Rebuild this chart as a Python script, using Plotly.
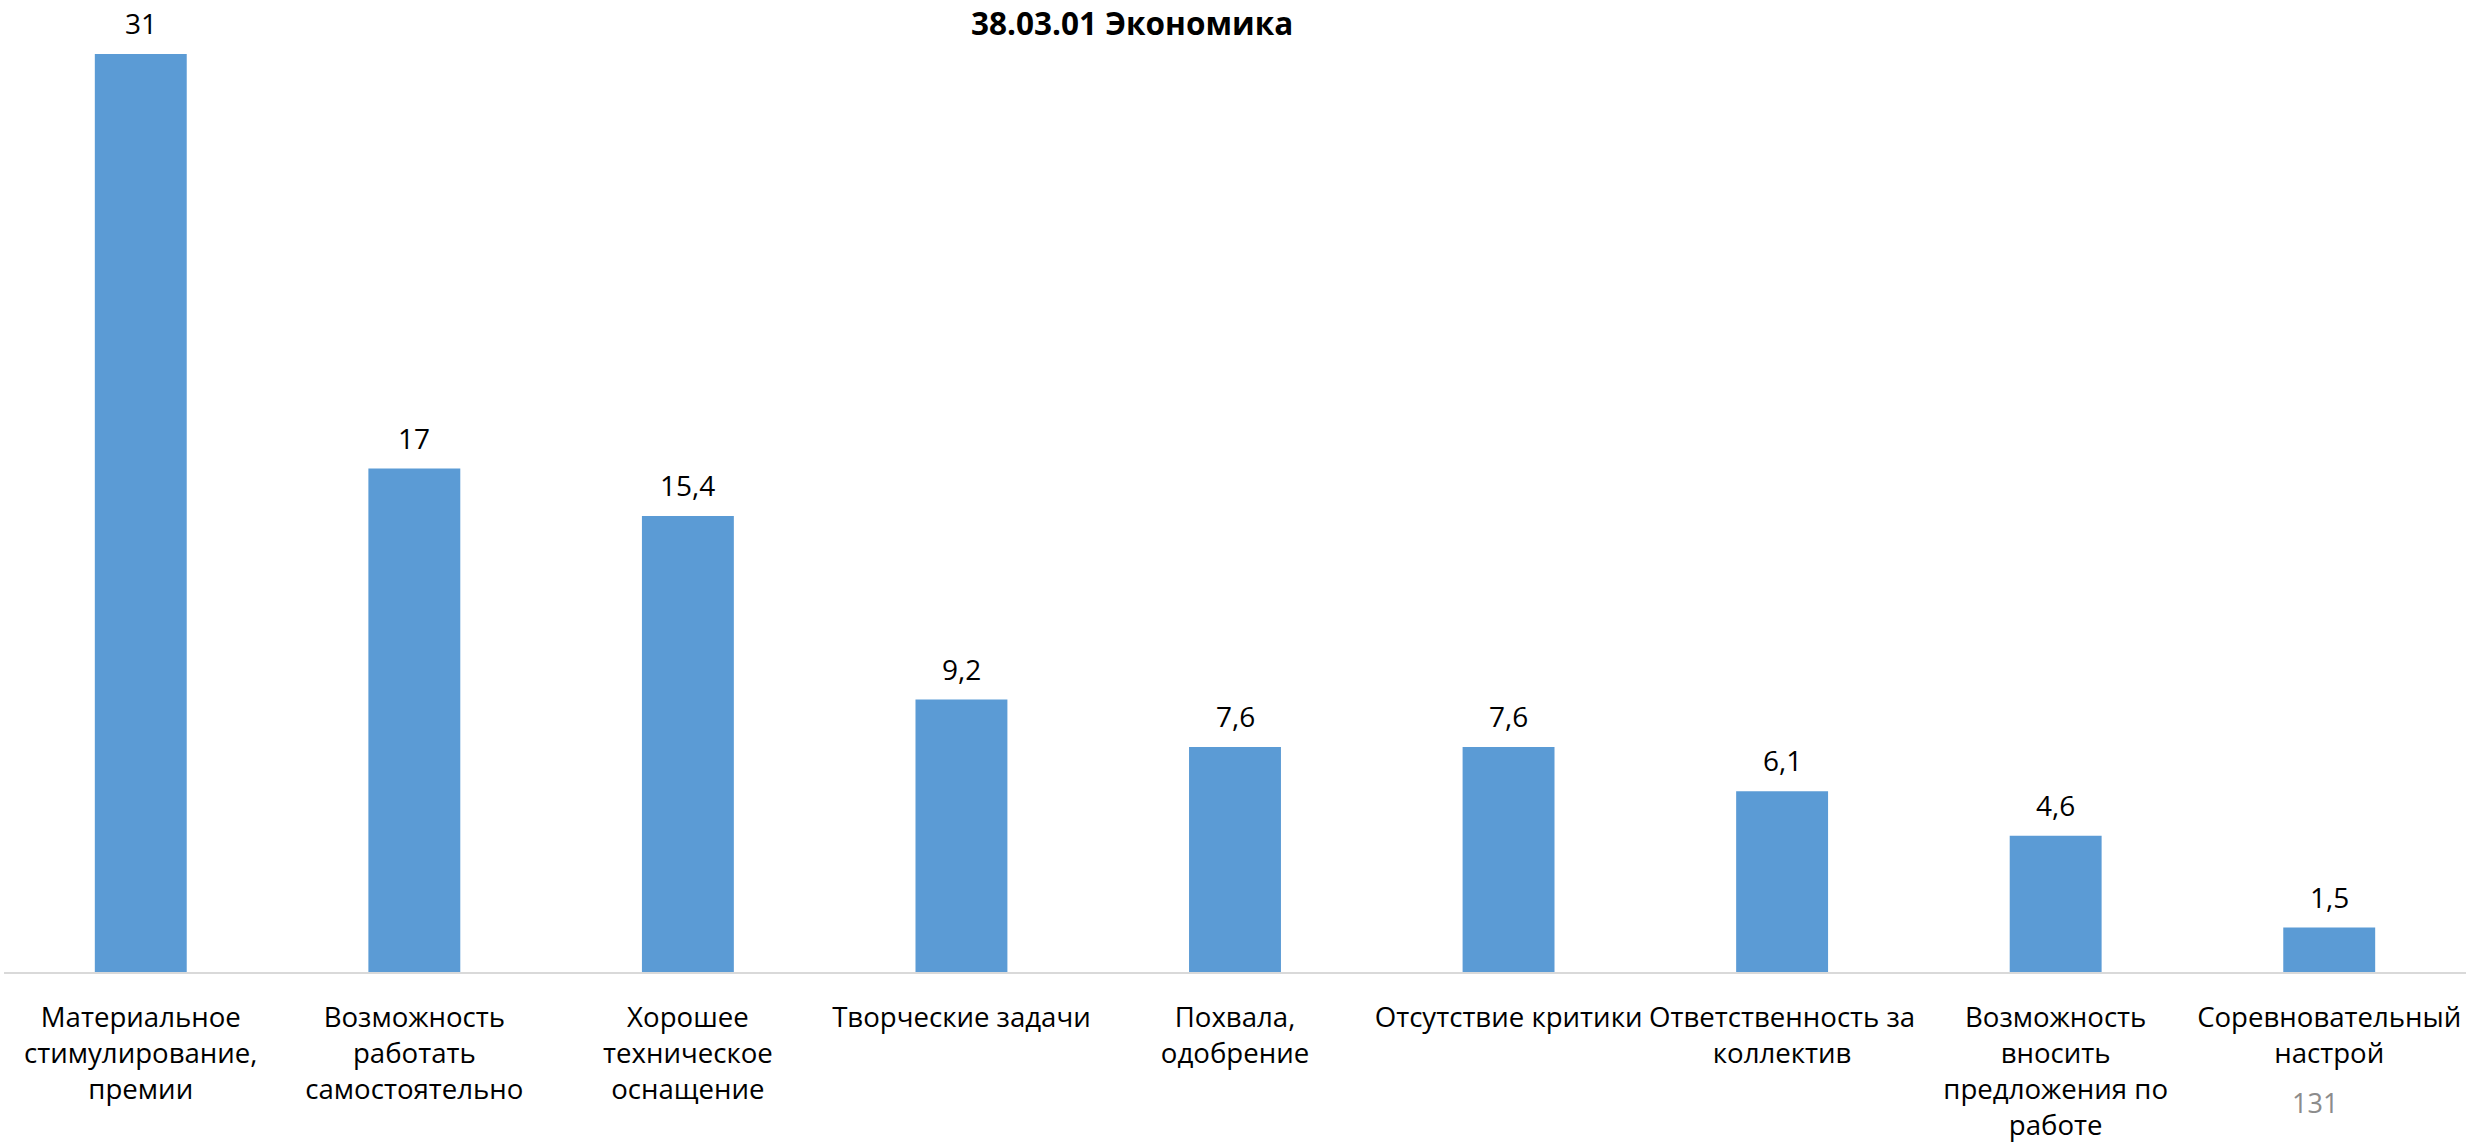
import plotly.graph_objects as go

categories = [
    "Материальное<br>стимулирование,<br>премии",
    "Возможность<br>работать<br>самостоятельно",
    "Хорошее<br>техническое<br>оснащение",
    "Творческие задачи",
    "Похвала,<br>одобрение",
    "Отсутствие критики",
    "Ответственность за<br>коллектив",
    "Возможность<br>вносить<br>предложения по<br>работе",
    "Соревновательный<br>настрой",
]
values = [31, 17, 15.4, 9.2, 7.6, 7.6, 6.1, 4.6, 1.5]
title_text = "38.03.01 Экономика"
page_number = "131"

def fmt(v):
    s = f"{v:g}"
    return s.replace(".", ",")

FONT = "Open Sans"
BAR_COLOR = "#5B9BD5"

W, H = 2466, 1147
ML, MR, MT, MB = 4, 0, 20, 175
PH = H - MT - MB
PW = W - ML - MR

fig = go.Figure()
fig.add_trace(go.Bar(
    x=list(range(len(categories))),
    y=values,
    marker=dict(color=BAR_COLOR, line=dict(width=0)),
    hoverinfo="skip",
))

annotations = []
for i, v in enumerate(values):
    annotations.append(dict(
        x=i, y=v, xref="x", yref="y", text=fmt(v), showarrow=False,
        yanchor="bottom", xanchor="center", yshift=10,
        font=dict(family=FONT, size=28, color="#000000"),
    ))
annotations.append(dict(
    x=(2315 - ML) / PW, y=-(1102 - (H - MB)) / PH, xref="paper", yref="paper",
    text=page_number, showarrow=False, xanchor="center", yanchor="middle",
    font=dict(family=FONT, size=27, color="#8c8c8c"),
))
annotations.append(dict(
    x=(1132 - ML) / PW, y=1 + MT / PH, xref="paper", yref="paper",
    text="<b>" + title_text + "</b>", showarrow=False, xanchor="center", yanchor="top",
    borderpad=0,
    font=dict(family=FONT, size=31.5, color="#000000"),
))

fig.update_layout(
    width=W, height=H,
    paper_bgcolor="#ffffff", plot_bgcolor="#ffffff",
    margin=dict(l=ML, r=MR, t=MT, b=MB, autoexpand=False),
    bargap=0.664,
    showlegend=False,
    xaxis=dict(
        tickmode="array", tickvals=list(range(len(categories))), ticktext=categories,
        range=[-0.5, len(categories) - 0.5],
        showline=True, linecolor="#d9d9d9", linewidth=2,
        showgrid=False, zeroline=False, ticks="", tickangle=0,
        tickfont=dict(family=FONT, size=27.6, color="#000000"),
        ticklabelstandoff=20, automargin=False,
    ),
    yaxis=dict(range=[0, 32.15], visible=False, showgrid=False, zeroline=False),
    annotations=annotations,
)

fig.write_html("out.html", config={"displayModeBar": False},
               post_script="document.body.style.margin='0';")
